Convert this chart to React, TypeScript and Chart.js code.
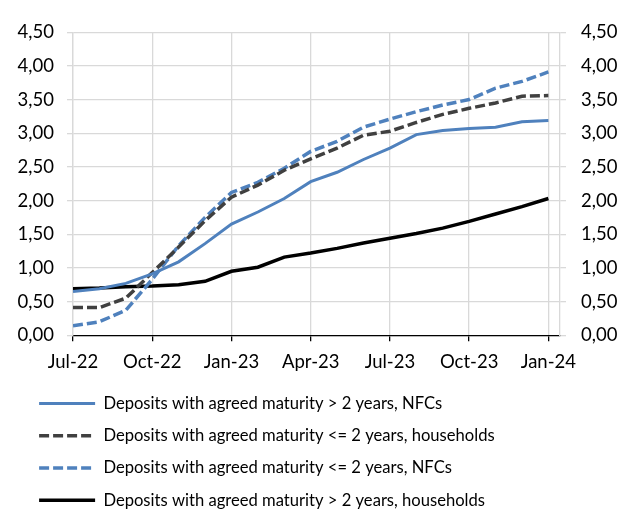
import React, { useEffect, useRef } from "react";
import { Chart, registerables } from "chart.js";

Chart.register(...registerables);

const months = [
  "Jul-22", "Aug-22", "Sep-22", "Oct-22", "Nov-22", "Dec-22",
  "Jan-23", "Feb-23", "Mar-23", "Apr-23", "May-23", "Jun-23",
  "Jul-23", "Aug-23", "Sep-23", "Oct-23", "Nov-23", "Dec-23", "Jan-24",
];
const tickMonths = [0, 3, 6, 9, 12, 15, 18];
const yTicks = [0, 0.5, 1, 1.5, 2, 2.5, 3, 3.5, 4, 4.5];

const nfcLong = [0.65, 0.69, 0.77, 0.91, 1.09, 1.36, 1.65, 1.83, 2.03, 2.28, 2.42, 2.61, 2.78, 2.98, 3.04, 3.07, 3.09, 3.17, 3.19];
const hhShort = [0.41, 0.41, 0.55, 0.93, 1.31, 1.70, 2.05, 2.23, 2.45, 2.62, 2.78, 2.97, 3.03, 3.16, 3.28, 3.37, 3.45, 3.55, 3.56];
const nfcShort = [0.14, 0.20, 0.37, 0.83, 1.33, 1.75, 2.12, 2.27, 2.48, 2.73, 2.88, 3.09, 3.21, 3.32, 3.42, 3.50, 3.67, 3.77, 3.91];
const hhLong = [0.69, 0.70, 0.72, 0.73, 0.75, 0.80, 0.95, 1.01, 1.16, 1.22, 1.29, 1.37, 1.44, 1.51, 1.59, 1.69, 1.80, 1.91, 2.03];

const seriesNames = [
  "Deposits with agreed maturity > 2 years, NFCs",
  "Deposits with agreed maturity <= 2 years, households",
  "Deposits with agreed maturity <= 2 years, NFCs",
  "Deposits with agreed maturity > 2 years, households",
];

const FONT = "Lato, 'DejaVu Sans', sans-serif";
const GRID = "#d9d9d9";

const toPts = (arr: number[]) => arr.map((v, i) => ({ x: i, y: v }));
const fmt = (v: number) => v.toFixed(2).replace(".", ",");

export default function App() {
  const ref = useRef<HTMLCanvasElement | null>(null);

  useEffect(() => {
    if (!ref.current) return;
    const shiftLegend = {
      id: "shiftLegend",
      afterLayout(chart: any) {
        const lg = chart.legend;
        if (lg) {
          lg.left += 15.5;
          lg.right += 15.5;
          lg.top += 3.5;
          lg.bottom += 3.5;
        }
      },
    };
    const setTicks = (vals: number[]) => (scale: any) => {
      scale.ticks = vals.map((v) => ({ value: v }));
    };
    const chart = new Chart(ref.current, {
      type: "line",
      data: {
        datasets: [
          {
            label: seriesNames[0],
            data: toPts(nfcLong),
            borderColor: "#4f81bd",
            backgroundColor: "#4f81bd",
            borderWidth: 3,
            pointRadius: 0,
            tension: 0,
          },
          {
            label: seriesNames[1],
            data: toPts(hhShort),
            borderColor: "#404040",
            backgroundColor: "#404040",
            borderWidth: 3.5,
            borderDash: [10, 4],
            pointRadius: 0,
            tension: 0,
          },
          {
            label: seriesNames[2],
            data: toPts(nfcShort),
            borderColor: "#4f81bd",
            backgroundColor: "#4f81bd",
            borderWidth: 3.5,
            borderDash: [10, 4],
            pointRadius: 0,
            tension: 0,
          },
          {
            label: seriesNames[3],
            data: toPts(hhLong),
            borderColor: "#000000",
            backgroundColor: "#000000",
            borderWidth: 3.5,
            pointRadius: 0,
            tension: 0,
          },
        ] as any,
      },
      options: {
        animation: false,
        responsive: true,
        maintainAspectRatio: false,
        layout: { padding: 0 },
        plugins: {
          tooltip: { enabled: false },
          legend: {
            position: "bottom",
            align: "start",
            labels: {
              usePointStyle: true,
              pointStyle: "line",
              pointStyleWidth: 56,
              padding: 15.6,
              color: "#000",
              font: { family: FONT, size: 16.6 },
              generateLabels: (ch: any) => {
                const items = Chart.defaults.plugins.legend.labels.generateLabels(ch);
                return items.map((it: any) => {
                  const ds = ch.data.datasets[it.datasetIndex];
                  return {
                    ...it,
                    lineDash: ds.borderDash || [],
                    lineWidth: ds.borderWidth,
                    strokeStyle: ds.borderColor,
                    fillStyle: ds.borderColor,
                    lineCap: "butt",
                  };
                });
              },
            },
          },
        },
        scales: {
          x: {
            type: "linear",
            min: 0,
            max: 18.44,
            afterBuildTicks: setTicks(tickMonths),
            afterFit: (s: any) => { s.height = 41; },
            ticks: {
              color: "#000",
              padding: 12,
              maxRotation: 0,
              autoSkip: false,
              font: { family: FONT, size: 18.5, lineHeight: 1 },
              callback: (v: any) => months[Number(v)] ?? "",
            },
            grid: { color: GRID, tickColor: "#000", tickLength: 6, lineWidth: 1.3 },
            border: { color: "#000", width: 1.3 },
          },
          y: {
            position: "left",
            min: 0,
            max: 4.5,
            afterBuildTicks: setTicks(yTicks),
            afterFit: (s: any) => { s.width = 65; },
            ticks: {
              color: "#000",
              padding: 13,
              font: { family: FONT, size: 18.5, lineHeight: 1 },
              callback: (v: any) => fmt(Number(v)),
            },
            grid: { color: GRID, tickColor: GRID, tickLength: 6, lineWidth: 1.3 },
            border: { color: GRID, width: 1.3 },
          },
          y2: {
            position: "right",
            min: 0,
            max: 4.5,
            afterBuildTicks: setTicks(yTicks),
            afterFit: (s: any) => { s.width = 61; },
            ticks: {
              color: "#000",
              padding: 15,
              font: { family: FONT, size: 18.5, lineHeight: 1 },
              callback: (v: any) => fmt(Number(v)),
            },
            grid: { drawOnChartArea: false, color: GRID, tickColor: GRID, tickLength: 6, lineWidth: 1.3 },
            border: { color: GRID, width: 1.3 },
          },
        },
      } as any,
      plugins: [shiftLegend],
    });
    return () => chart.destroy();
  }, []);

  return (
    <div style={{ position: "absolute", left: 8, top: 8, width: 613, height: 507 }}>
      <canvas ref={ref} />
    </div>
  );
}
